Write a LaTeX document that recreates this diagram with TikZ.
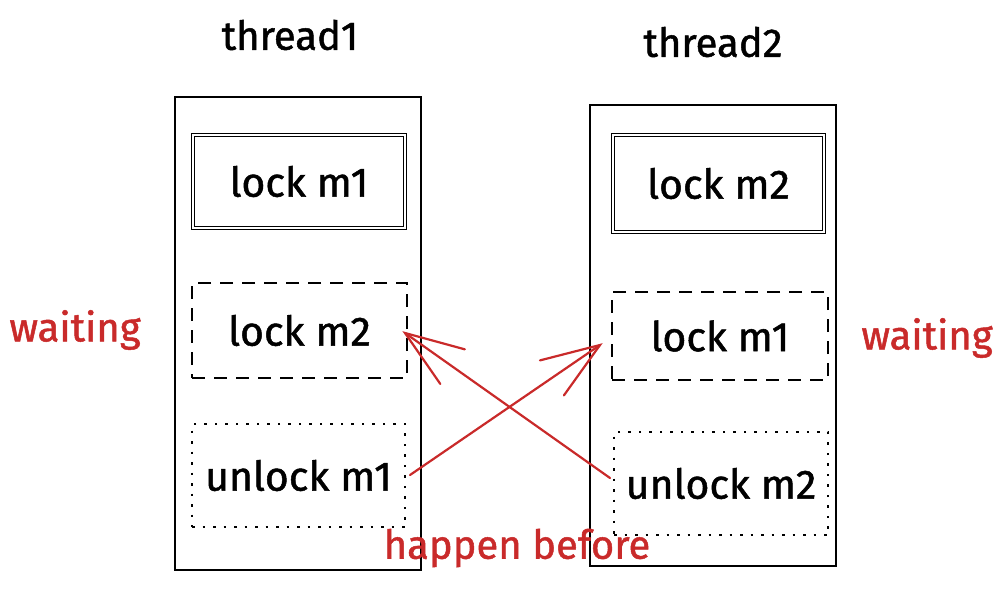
\documentclass[tikz,border=0pt]{standalone}
\usepackage{fontspec}
\setmainfont{Fira Sans}[BoldFont=Fira Sans,BoldFeatures={FakeBold=1.2}]
\usetikzlibrary{calc}
\definecolor{xred}{HTML}{C92A2A}
\begin{document}
\begin{tikzpicture}[x=1pt,y=-1pt,
  outer/.style={draw=black,line width=2.6pt},
  solidbox/.style={draw=black,line width=1.8pt,double distance=1.2pt,double=white},
  dashbox/.style={draw=black,line width=2.6pt,dash pattern=on 13pt off 9pt},
  dotbox/.style={draw=black,line width=2.6pt,dash pattern=on 2.5pt off 8pt},
  lbl/.style={font=\fontsize{41}{43}\selectfont\bfseries,text=black},
  title/.style={font=\fontsize{40}{42}\selectfont\bfseries,text=black},
  red/.style={font=\fontsize{40}{42}\selectfont\bfseries,text=xred},
  arr/.style={draw=xred,line width=2.2pt,line cap=round}]
\useasboundingbox (0,0) rectangle (1006,592);
% outer columns
\node[outer,minimum width=246pt,minimum height=473pt,inner sep=0pt] (col1) at (298,333.5) {};
\node[outer,minimum width=246pt,minimum height=461pt,inner sep=0pt] (col2) at (713,335.5) {};
% titles
\node[title] (t1) at (290,35) {thread1};
\node[title] (t2) at (713,42) {thread2};
% left boxes
\node[solidbox,lbl,minimum width=212pt,minimum height=93pt,inner sep=0pt] (l1) at (299,181.5) {lock m1};
\node[dashbox,lbl,minimum width=215pt,minimum height=95pt,inner sep=0pt] (l2) at (299.5,330.5) {lock m2};
\node[dotbox,lbl,minimum width=213pt,minimum height=103pt,inner sep=0pt] (l3) at (298.5,475.5) {unlock m1};
% right boxes
\node[solidbox,lbl,minimum width=211pt,minimum height=97pt,inner sep=0pt] (r1) at (718.5,183.5) {lock m2};
\node[dashbox,lbl,minimum width=216pt,minimum height=88pt,inner sep=0pt] (r2) at (720,336) {lock m1};
\node[dotbox,lbl,minimum width=214pt,minimum height=103pt,inner sep=0pt] (r3) at (721,483.5) {unlock m2};
% red labels
\node[red] (w1) at (75,330) {waiting};
\node[red] (w2) at (927,338) {waiting};
\node[red] (hb) at (517,548) {happen before};
% arrows
\coordinate (a1s) at (410,475);
\coordinate (a1e) at (600,345);
\coordinate (a2s) at (610,478);
\coordinate (a2e) at (405,333);
\draw[arr] (a1s) -- (a1e);
\draw[arr] ($(a1e)!62pt!20:(a1s)$) -- (a1e) -- ($(a1e)!62pt!-20:(a1s)$);
\draw[arr] (a2s) -- (a2e);
\draw[arr] ($(a2e)!62pt!20:(a2s)$) -- (a2e) -- ($(a2e)!62pt!-20:(a2s)$);
\end{tikzpicture}
\end{document}
